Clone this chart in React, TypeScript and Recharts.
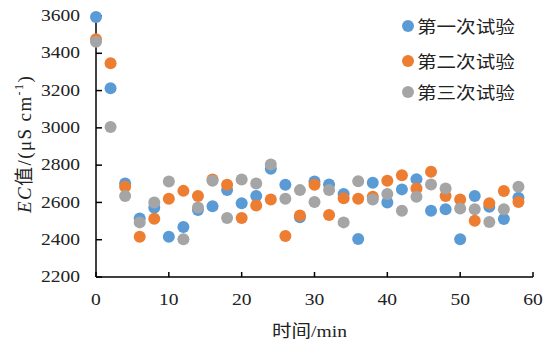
import React from 'react';
import { ScatterChart, Scatter, XAxis, YAxis, Legend, Label } from 'recharts';

const times = [0, 2, 4, 6, 8, 10, 12, 14, 16, 18, 20, 22, 24, 26, 28, 30, 32, 34, 36, 38, 40, 42, 44, 46, 48, 50, 52, 54, 56, 58];
const trial1 = [3595, 3213, 2702, 2514, 2571, 2416, 2468, 2559, 2580, 2666, 2595, 2634, 2780, 2695, 2520, 2712, 2696, 2645, 2404, 2705, 2600, 2670, 2725, 2555, 2564, 2402, 2634, 2577, 2511, 2625];
const trial2 = [3475, 3346, 2684, 2416, 2512, 2620, 2662, 2634, 2723, 2695, 2516, 2584, 2616, 2420, 2530, 2695, 2532, 2623, 2620, 2630, 2716, 2746, 2675, 2764, 2634, 2616, 2502, 2595, 2661, 2602];
const trial3 = [3462, 3004, 2634, 2493, 2600, 2712, 2402, 2573, 2716, 2516, 2723, 2702, 2804, 2620, 2666, 2602, 2666, 2493, 2714, 2616, 2645, 2555, 2630, 2696, 2675, 2568, 2564, 2495, 2564, 2684];
const seriesNames = ['第一次试验', '第二次试验', '第三次试验'];
const colors = ['#5B9BD5', '#ED7D31', '#A5A5A5'];
const xTicks = [0, 10, 20, 30, 40, 50, 60];
const yTicks = [2200, 2400, 2600, 2800, 3000, 3200, 3400, 3600];

const toPoints = (vals: number[]) => times.map((t, i) => ({ x: t, y: vals[i] }));
const allSeries = [trial1, trial2, trial3].map(toPoints);

const FONT = '"Liberation Serif", "Times New Roman", "Noto Sans CJK SC", serif';
const TEXT = '#222';
const SX = 1.15;

const dot = (color: string) => (props: any) => (
  <circle cx={props.cx} cy={props.cy} r={6} fill={color} />
);

const YTick = (props: any) => {
  const { x, y, payload } = props;
  return (
    <text transform={`translate(${x},${y}) scale(${SX},1)`} textAnchor="end" dy="0.3em" fontSize={17} fontFamily={FONT} fill={TEXT}>
      {payload.value}
    </text>
  );
};

const XTick = (props: any) => {
  const { x, y, payload } = props;
  return (
    <text transform={`translate(${x},${y}) scale(${SX},1)`} textAnchor="middle" dy="0.71em" fontSize={17} fontFamily={FONT} fill={TEXT}>
      {payload.value}
    </text>
  );
};

const legendRows = [25.7, 60.7, 91.7];

const renderLegend = () => (
  <div style={{ position: 'relative', width: 140, height: 100, fontFamily: FONT, fontSize: 17, color: TEXT }}>
    {seriesNames.map((n, i) => (
      <div key={n} style={{ position: 'absolute', left: 0, top: legendRows[i] - 12, height: 24, display: 'flex', alignItems: 'center', whiteSpace: 'nowrap' }}>
        <span style={{ display: 'inline-block', width: 12, height: 12, borderRadius: 6, background: colors[i], marginRight: 3 }} />
        <span style={{ display: 'inline-block', transform: `scaleX(${SX})`, transformOrigin: 'left center' }}>{n}</span>
      </div>
    ))}
  </div>
);

export default function App() {
  return (
    <div style={{ position: 'absolute', left: 0, top: 0, width: 545, height: 344, background: '#fff' }}>
      <ScatterChart width={545} height={344} margin={{ top: 16, right: 12, bottom: 37, left: 0 }}>
        <XAxis
          type="number"
          dataKey="x"
          domain={[0, 60]}
          ticks={xTicks}
          height={30}
          axisLine={{ stroke: '#000', strokeWidth: 1.5 }}
          tickLine={{ stroke: '#000', strokeWidth: 1.5 }}
          tickSize={-5}
          tickMargin={21}
          tick={<XTick />}
          interval={0}
        >
          <Label
            content={() => (
              <text transform={`translate(309.5,337) scale(${SX},1)`} textAnchor="middle" fontSize={17} fontFamily={FONT} fill={TEXT}>
                时间/min
              </text>
            )}
          />
        </XAxis>
        <YAxis
          type="number"
          dataKey="y"
          domain={[2200, 3600]}
          ticks={yTicks}
          width={96}
          axisLine={{ stroke: '#000', strokeWidth: 1.5 }}
          tickLine={{ stroke: '#000', strokeWidth: 1.5 }}
          tickSize={-6}
          tickMargin={22}
          tick={<YTick />}
          interval={0}
        >
          <Label
            content={() => (
              <text
                transform="translate(31,213) rotate(-90)"
                textAnchor="start"
                fontSize={19}
                letterSpacing={1.4}
                fontFamily={FONT}
                fill={TEXT}
              >
                <tspan fontStyle="italic">EC</tspan>
                <tspan>值/(μS cm</tspan>
                <tspan dy={-8} fontSize={12}>-1</tspan>
                <tspan dy={8}>)</tspan>
              </text>
            )}
          />
        </YAxis>
        <Legend
          content={renderLegend}
          layout="vertical"
          verticalAlign="middle"
          align="center"
          wrapperStyle={{ position: 'absolute', left: 401.7, top: 0, width: 140, height: 100 }}
        />
        {allSeries.map((pts, i) => (
          <Scatter
            key={seriesNames[i]}
            name={seriesNames[i]}
            data={pts}
            fill={colors[i]}
            shape={dot(colors[i])}
            isAnimationActive={false}
          />
        ))}
      </ScatterChart>
    </div>
  );
}
